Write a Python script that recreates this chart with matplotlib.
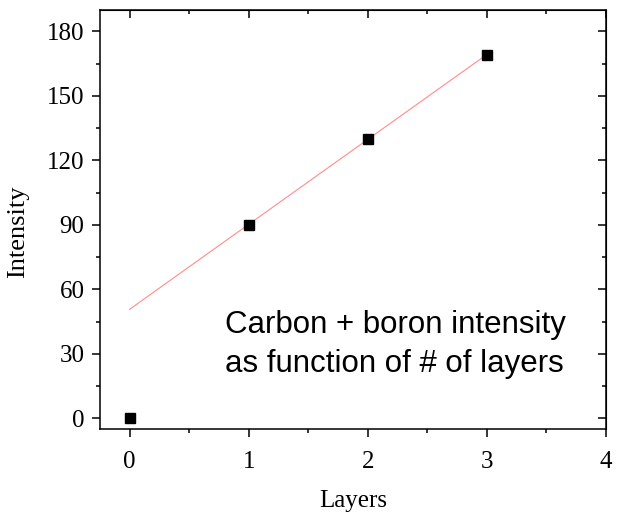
import numpy as np
import matplotlib
matplotlib.use('Agg')
import matplotlib.pyplot as plt
from matplotlib.ticker import MultipleLocator

# data
layers = [0, 1, 2, 3]
intensity = [0, 90, 130, 169]

# linear fit over layers 1..3, drawn from 0 to 3
fit = np.polyfit(layers[1:], intensity[1:], 1)
xfit = np.array([0, 3])
yfit = np.polyval(fit, xfit)

plt.rcParams['font.family'] = 'Liberation Serif'

fig = plt.figure(figsize=(6.2, 5.15), dpi=100)
ax = fig.add_axes([0.161, 0.167, 0.816, 0.814])

ax.plot(xfit, yfit, color='#ff8c8c', lw=0.8)
ax.plot(layers, intensity, 's', color='black', markersize=6.5)

ax.set_xlim(-0.25, 4)
ax.set_ylim(-5, 190)
ax.xaxis.set_major_locator(MultipleLocator(1))
ax.xaxis.set_minor_locator(MultipleLocator(0.5))
ax.yaxis.set_major_locator(MultipleLocator(30))
ax.yaxis.set_minor_locator(MultipleLocator(15))

for s in ax.spines.values():
    s.set_linewidth(1.1)

ax.tick_params(which='major', direction='out', length=6, width=1.1, labelsize=18, pad=5)
ax.tick_params(which='minor', direction='out', length=3, width=1.1)
ax.tick_params(axis='x', which='major', pad=10)

# mirrored ticks pointing inward on top and right
top = ax.secondary_xaxis('top')
top.xaxis.set_major_locator(MultipleLocator(1))
top.xaxis.set_minor_locator(MultipleLocator(0.5))
top.tick_params(which='major', direction='in', length=6, width=1.1, labeltop=False)
top.tick_params(which='minor', direction='in', length=3, width=1.1)
right = ax.secondary_yaxis('right')
right.yaxis.set_major_locator(MultipleLocator(30))
right.yaxis.set_minor_locator(MultipleLocator(15))
right.tick_params(which='major', direction='in', length=6, width=1.1, labelright=False)
right.tick_params(which='minor', direction='in', length=3, width=1.1)

ax.set_xlabel('Layers', fontsize=18, labelpad=12)
ax.set_ylabel('Intensity', fontsize=19)
ax.yaxis.set_label_coords(-0.14, 0.47)

ax.text(0.805, 39.6, 'Carbon + boron intensity',
        family='Liberation Sans', fontsize=22.5, va='baseline', ha='left')
ax.text(0.805, 21.5, 'as function of # of layers',
        family='Liberation Sans', fontsize=22.5, va='baseline', ha='left')

fig.savefig('out.png', dpi=100)
